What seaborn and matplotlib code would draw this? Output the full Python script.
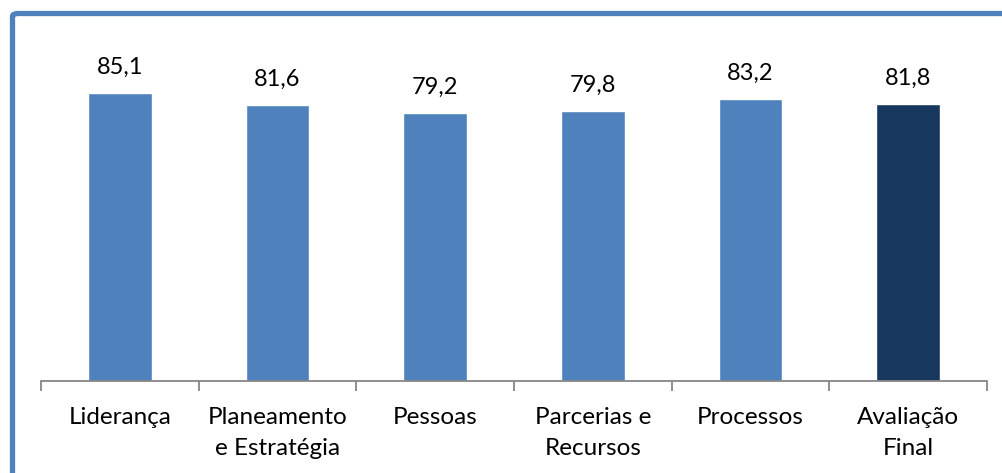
import matplotlib
matplotlib.use("Agg")
import matplotlib.pyplot as plt
from matplotlib.patches import FancyBboxPatch
import seaborn as sns
import pandas as pd
import numpy as np

categories = ["Liderança", "Planeamento\ne Estratégia", "Pessoas",
              "Parcerias e\nRecursos", "Processos", "Avaliação\nFinal"]
values = [85.1, 81.6, 79.2, 79.8, 83.2, 81.8]
value_labels = ["85,1", "81,6", "79,2", "79,8", "83,2", "81,8"]
bar_colors = ["#4F81BD", "#4F81BD", "#4F81BD", "#4F81BD", "#4F81BD", "#17375E"]

sns.set_theme(style="white")
plt.rcParams["font.family"] = ["Lato", "DejaVu Sans"]

W, H = 1003, 473
fig = plt.figure(figsize=(W / 100, H / 100), dpi=100)
ax = fig.add_axes([41 / W, (H - 381) / H, 946 / W, 338.4 / H])

df = pd.DataFrame({"cat": categories, "val": values})
sns.barplot(data=df, x="cat", y="val", hue="cat", palette=bar_colors,
            width=0.405, legend=False, ax=ax, saturation=1)

ax.set_ylim(0, 100)
ax.set_xlim(-0.5, len(categories) - 0.5)
ax.set_xlabel("")
ax.set_ylabel("")
ax.set_yticks([])
for s in ["top", "right", "left"]:
    ax.spines[s].set_visible(False)
ax.spines["bottom"].set_color("#868686")
ax.spines["bottom"].set_linewidth(1.3)

ax.set_xticks(range(len(categories)))
ax.set_xticklabels(categories, fontsize=17.5, color="black", linespacing=1.58)
ax.tick_params(axis="x", which="major", length=0, pad=19)
ax.set_xticks(np.arange(-0.5, len(categories)), minor=True)
ax.tick_params(axis="x", which="minor", length=7, width=1.3, color="#868686",
               direction="out", bottom=True)
for lbl in ax.get_xticklabels():
    lbl.set_verticalalignment("top")

for i, (v, t) in enumerate(zip(values, value_labels)):
    ax.annotate(t, (i, v), xytext=(0, 11), textcoords="offset points",
                ha="center", va="bottom", fontsize=17, color="black")

border = FancyBboxPatch((12.5 / W, -0.2), 1.2, 1.2 - 13.5 / H,
                        boxstyle="round,pad=0,rounding_size=0.006",
                        transform=fig.transFigure, fill=False,
                        edgecolor="#4F81BD", linewidth=3.8, clip_on=False)
fig.patches.append(border)

fig.savefig("out.png", dpi=100)
